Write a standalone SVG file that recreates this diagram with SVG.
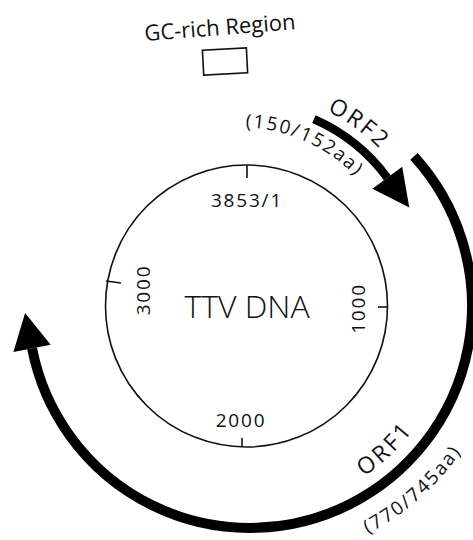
<svg xmlns="http://www.w3.org/2000/svg" xmlns:xlink="http://www.w3.org/1999/xlink" width="473" height="540" viewBox="0 0 473 540">
  <style>
    text { font-family: "Open Sans", "Noto Sans", sans-serif; fill: #111; }
    .thin { fill: none; stroke: #111; stroke-width: 1.6; }
    .orf { fill: none; stroke: #000; stroke-linecap: butt; }
    .head { fill: #000; stroke: none; }
    .num { font-size: 19px; letter-spacing: 1.8px; }
  </style>
  <defs>
    <!-- label baselines (arcs) -->
    <path id="p-orf2" d="M 261.38 92.07 A 195 195 0 0 1 419.14 206.69"/>
    <path id="p-orf2aa" d="M 224.71 128.34 A 158.5 158.5 0 0 1 369.39 193.06"/>
    <path id="p-orf1" d="M 297.51 505.42 A 205 205 0 0 0 446.46 364.57"/>
    <path id="p-orf1aa" d="M 301.14 557.35 A 256.5 256.5 0 0 0 493.24 387.39"/>
  </defs>

  <rect width="473" height="540" fill="#fff"/>

  <!-- GC-rich region marker -->
  <g id="gc-rich">
    <text x="145" y="41" font-size="22" transform="rotate(-4.5 145 41)">GC-rich Region</text>
    <rect class="thin" x="203" y="49" width="44" height="25" transform="rotate(-3 225 61)"/>
  </g>

  <!-- genome circle with position ticks -->
  <g id="genome">
    <circle class="thin" cx="246.5" cy="306" r="141"/>
    <line class="thin" x1="247" y1="165" x2="247" y2="178"/>
    <line class="thin" x1="387.5" y1="307" x2="378" y2="307"/>
    <line class="thin" x1="242" y1="447" x2="242" y2="438"/>
    <line class="thin" x1="106" y1="281" x2="121" y2="283"/>
    <text x="247" y="206.5" text-anchor="middle" class="num">3853/1</text>
    <text x="241" y="427" text-anchor="middle" class="num">2000</text>
    <text class="num" text-anchor="middle" transform="translate(150 290) rotate(-90)">3000</text>
    <text class="num" text-anchor="middle" transform="translate(364.5 308.5) rotate(-90)">1000</text>
    <text x="247" y="318" text-anchor="middle" font-size="32" font-weight="300">TTV DNA</text>
  </g>

  <!-- open reading frames -->
  <g id="connectors">
    <g id="orf1">
      <path class="orf" stroke-width="10" d="M 413.97 156.3 A 222 222 0 1 1 32.08 348.4"/>
      <polygon class="head" points="13.4,352 50.7,344.8 25.1,313.1"/>
    </g>
    <g id="orf2">
      <path class="orf" stroke-width="8.5" d="M 313.9 119.2 A 182 182 0 0 1 387.3 177.7"/>
      <polygon class="head" points="402.2,166.7 372.4,188.7 409.3,207.4"/>
    </g>
  </g>

  <g id="orf-labels">
    <text font-size="23" letter-spacing="2.5"><textPath xlink:href="#p-orf2" startOffset="50%" text-anchor="middle">ORF2</textPath></text>
    <text font-size="19" letter-spacing="1.8"><textPath xlink:href="#p-orf2aa" startOffset="50%" text-anchor="middle">(150/152aa)</textPath></text>
    <text font-size="23" letter-spacing="3"><textPath xlink:href="#p-orf1" startOffset="50%" text-anchor="middle">ORF1</textPath></text>
    <text font-size="19" letter-spacing="2"><textPath xlink:href="#p-orf1aa" startOffset="50%" text-anchor="middle">(770/745aa)</textPath></text>
  </g>
</svg>
